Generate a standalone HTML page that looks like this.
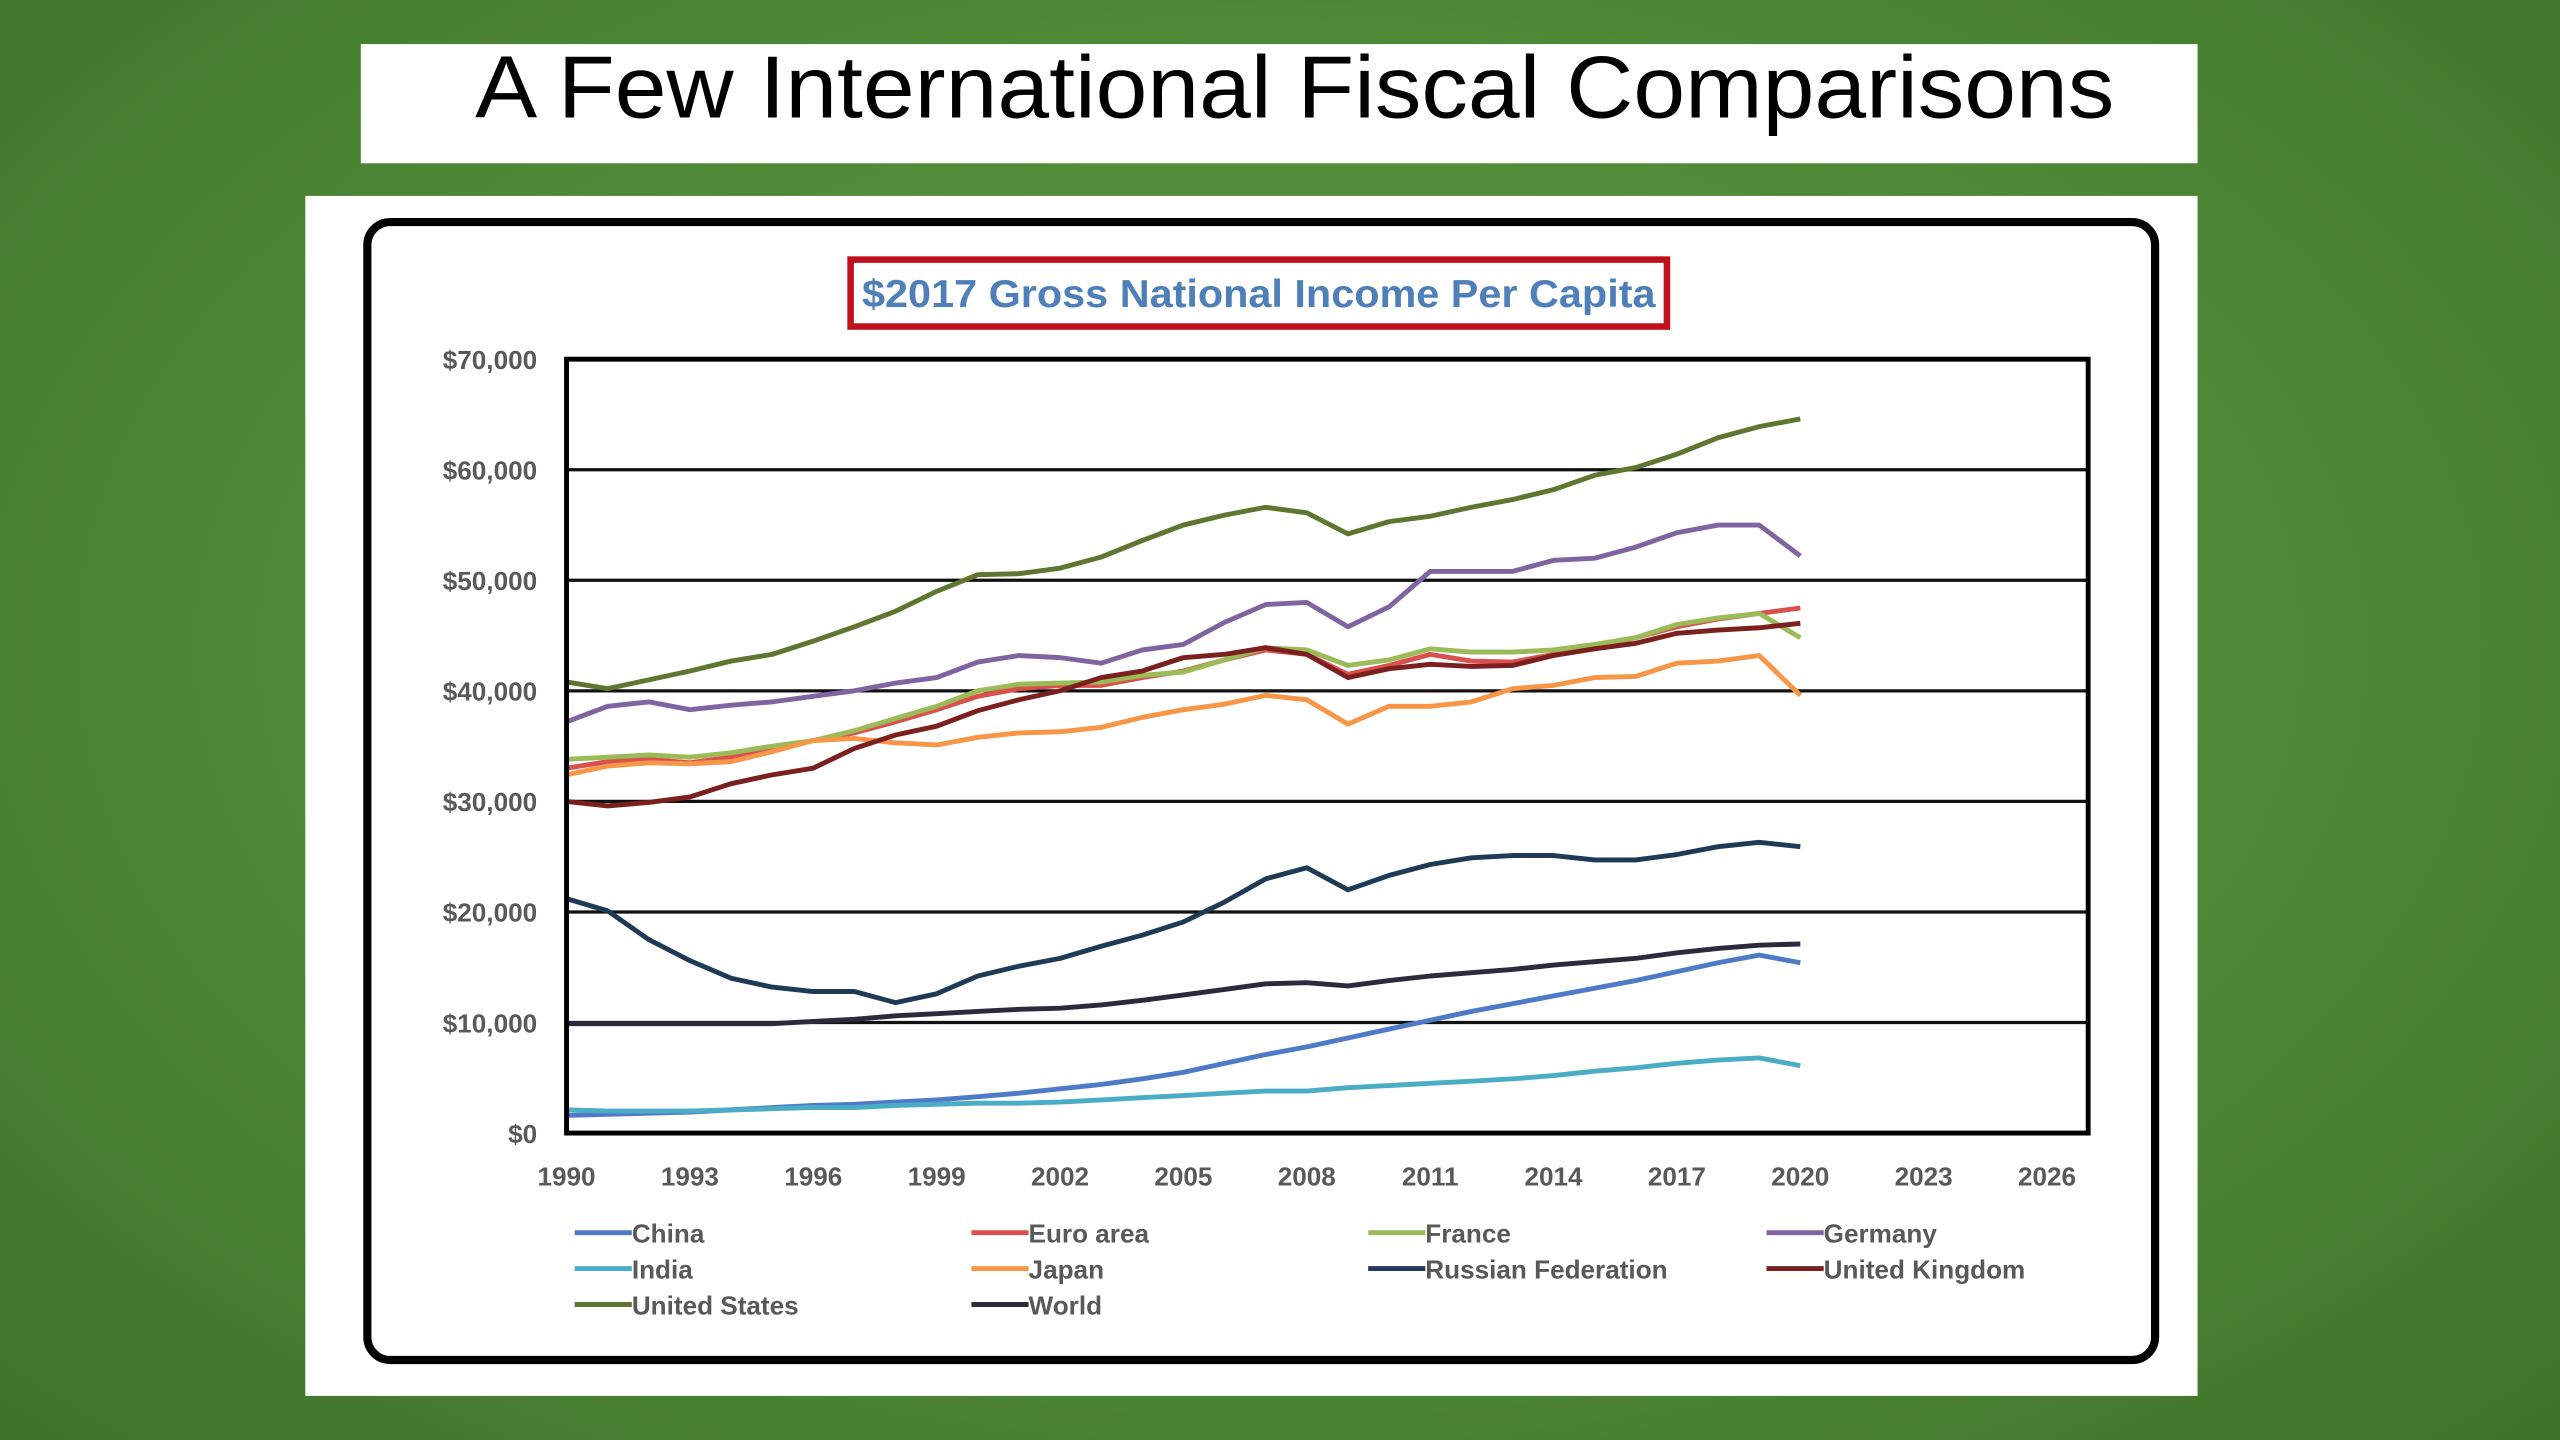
<!DOCTYPE html>
<html><head><meta charset="utf-8"><style>
html,body{margin:0;padding:0;width:2560px;height:1440px;overflow:hidden;}
body{background:radial-gradient(ellipse at 50% 45%,#5c9a42 0%,#4f8a37 55%,#3e7229 100%);}
svg{display:block;}
text{font-family:"Liberation Sans Narrow","Liberation Sans",sans-serif;}
</style></head><body>
<svg id="root" width="2560" height="1440" viewBox="0 0 1568 882" xmlns="http://www.w3.org/2000/svg">
<rect x="221" y="27" width="1125" height="73" fill="#fff"/>
<text x="793" y="72" text-anchor="middle" font-size="54" textLength="1004" lengthAdjust="spacingAndGlyphs" fill="#000">A Few International Fiscal Comparisons</text>
<rect x="187" y="120" width="1159" height="735" fill="#fff"/>
<rect x="225" y="136" width="1095" height="697" rx="14" fill="none" stroke="#000" stroke-width="5"/>
<rect x="521" y="159" width="500" height="41" fill="none" stroke="#c0101c" stroke-width="4"/>
<text x="771" y="188" text-anchor="middle" font-size="24" font-weight="bold" fill="#4f7fb8" textLength="486" lengthAdjust="spacingAndGlyphs">$2017 Gross National Income Per Capita</text>
<g id="plot"></g>
</svg>
<script>
const years=[];for(let y=1990;y<=2020;y++)years.push(y);
const yTicks=[0,10000,20000,30000,40000,50000,60000,70000];
const yTickLabels=["$0","$10,000","$20,000","$30,000","$40,000","$50,000","$60,000","$70,000"];
const xTicks=[1990,1993,1996,1999,2002,2005,2008,2011,2014,2017,2020,2023,2026];
const seriesNames=["China","Euro area","France","Germany","India","Japan","Russian Federation","United Kingdom","United States","World"];
const seriesColors=["#4f7ac8","#d9504e","#9bbb59","#8064a2","#4bacc6","#f79646","#1f3a55","#7b1f1f","#5f7530","#2d2a3e"];
const china=[1.6,1.7,1.8,1.9,2.1,2.3,2.5,2.6,2.8,3,3.3,3.6,4,4.4,4.9,5.5,6.3,7.1,7.8,8.6,9.4,10.2,11,11.7,12.4,13.1,13.8,14.6,15.4,16.1,15.4];
const euroArea=[33,33.6,33.8,33.5,34,34.8,35.5,36.2,37.2,38.3,39.5,40.2,40.5,40.5,41.2,41.8,42.8,43.7,43.3,41.5,42.3,43.3,42.7,42.6,43.3,44,44.8,45.8,46.5,47,47.5];
const france=[33.8,34,34.2,34,34.4,35,35.5,36.4,37.5,38.6,40,40.6,40.7,40.8,41.4,41.7,42.8,43.9,43.7,42.3,42.8,43.8,43.5,43.5,43.7,44.2,44.8,46,46.6,47,44.8];
const germany=[37.2,38.6,39,38.3,38.7,39,39.5,40,40.7,41.2,42.6,43.2,43,42.5,43.7,44.2,46.2,47.8,48,45.8,47.6,50.8,50.8,50.8,51.8,52,53,54.3,55,55,52.2];
const india=[2.1,2,2,2,2.1,2.2,2.3,2.3,2.5,2.6,2.7,2.7,2.8,3,3.2,3.4,3.6,3.8,3.8,4.1,4.3,4.5,4.7,4.9,5.2,5.6,5.9,6.3,6.6,6.8,6.1];
const japan=[32.4,33.2,33.5,33.4,33.6,34.5,35.5,35.7,35.3,35.1,35.8,36.2,36.3,36.7,37.6,38.3,38.8,39.6,39.2,37,38.6,38.6,39,40.2,40.5,41.2,41.3,42.5,42.7,43.2,39.6];
const russia=[21.2,20.1,17.5,15.6,14,13.2,12.8,12.8,11.8,12.6,14.2,15.1,15.8,16.9,17.9,19.1,20.9,23,24,22,23.3,24.3,24.9,25.1,25.1,24.7,24.7,25.2,25.9,26.3,25.9];
const uk=[30,29.6,29.9,30.4,31.6,32.4,33,34.8,36,36.8,38.2,39.2,40,41.2,41.8,43,43.3,43.9,43.3,41.2,42,42.4,42.2,42.3,43.2,43.8,44.3,45.2,45.5,45.7,46.1];
const us=[40.8,40.2,41,41.8,42.7,43.3,44.5,45.8,47.2,49,50.5,50.6,51.1,52.1,53.6,55,55.9,56.6,56.1,54.2,55.3,55.8,56.6,57.3,58.2,59.5,60.2,61.4,62.9,63.9,64.6];
const world=[9.9,9.9,9.9,9.9,9.9,9.9,10.1,10.3,10.6,10.8,11,11.2,11.3,11.6,12,12.5,13,13.5,13.6,13.3,13.8,14.2,14.5,14.8,15.2,15.5,15.8,16.3,16.7,17,17.1];
const seriesData=[china,euroArea,france,germany,india,japan,russia,uk,us,world];

const NS="http://www.w3.org/2000/svg";
const X0=347,X1=1279,Y0=694,Y1=220;
function xs(yr){return X0+(yr-1990)/(2027-1990)*(X1-X0);}
function ys(v){return Y0-v/70000*(Y0-Y1);}
const g=document.getElementById('plot');
function mk(tag,attrs,parent){const e=document.createElementNS(NS,tag);for(const k in attrs)e.setAttribute(k,attrs[k]);(parent||g).appendChild(e);return e;}

yTicks.forEach((t,i)=>{
  if(t>0&&t<70000){const l=mk('line',{x1:X0,x2:X1,y1:ys(t),y2:ys(t),stroke:'#111','stroke-width':2});
  
  }
  const tx=mk('text',{x:329,y:ys(t)+6,'text-anchor':'end','font-size':16,'font-weight':'bold',fill:'#595959'});
  tx.textContent=yTickLabels[i];
  
  
});
xTicks.forEach(t=>{
  const tx=mk('text',{x:xs(t),y:726,'text-anchor':'middle','font-size':16,'font-weight':'bold',fill:'#595959'});
  tx.textContent=String(t);
  
  
});
seriesData.forEach((d,i)=>{
  const pts=d.map((v,j)=>xs(years[j]).toFixed(1)+','+ys(v*1000).toFixed(1)).join(' ');
  const p=mk('polyline',{points:pts,fill:'none',stroke:seriesColors[i],'stroke-width':3,'stroke-linejoin':'round'});
  
  
});
const frame=mk('rect',{x:X0,y:Y1,width:X1-X0,height:Y0-Y1,fill:'none',stroke:'#000','stroke-width':3});


const colX=[352,595,838,1082],rowY=[755,777,799];
seriesNames.forEach((n,i)=>{
  const cx=colX[i%4],cy=rowY[Math.floor(i/4)];
  const lg=mk('g',{});
  
  
  mk('line',{x1:cx,x2:cx+35,y1:cy,y2:cy,stroke:seriesColors[i],'stroke-width':3},lg);
  const t=mk('text',{x:cx+35,y:cy+6,'font-size':16,'font-weight':'bold',fill:'#595959'},lg);
  t.textContent=n;
});
</script>
</body></html>
